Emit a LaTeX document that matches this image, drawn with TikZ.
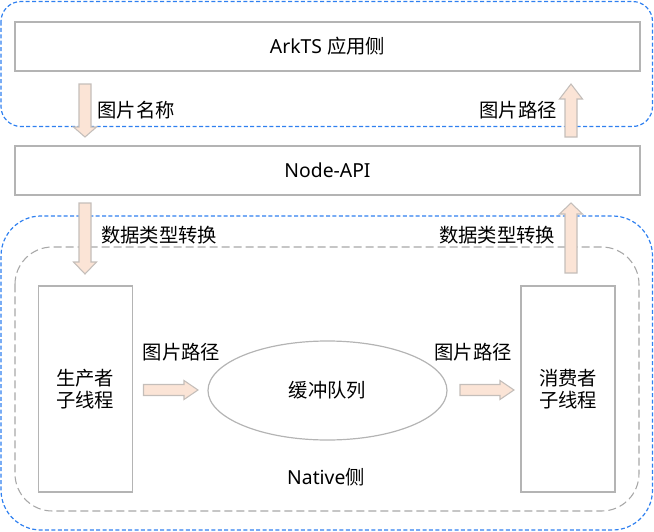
\documentclass[tikz,border=0pt]{standalone}
\usepackage{fontspec}
\setmainfont{Noto Sans}
\newfontfamily\cjk{Noto Sans CJK SC}
\usetikzlibrary{shapes.geometric}
\definecolor{bluedash}{HTML}{2F80F0}
\definecolor{graydash}{HTML}{A8A8A8}
\definecolor{boxline}{HTML}{B4B4B4}
\definecolor{arrfill}{HTML}{FBE4D6}
\definecolor{arrline}{HTML}{C4BEBA}
\newcommand{\vblockarrow}[4]{% center x, start y, head base y, tip y
  \draw[blockarrow] (#1-6,#2) -- (#1+6,#2) -- (#1+6,#3) -- (#1+11.5,#3) -- (#1,#4) -- (#1-11.5,#3) -- (#1-6,#3) -- cycle;}
\newcommand{\hblockarrow}[4]{% center y, start x, head base x, tip x
  \draw[blockarrow] (#2,#1-5.5) -- (#3,#1-5.5) -- (#3,#1-9.5) -- (#4,#1) -- (#3,#1+9.5) -- (#3,#1+5.5) -- (#2,#1+5.5) -- cycle;}
\tikzset{
  box/.style={draw=boxline, line width=0.9pt, inner sep=0pt, font=\fontsize{14.5}{17}\selectfont},
  widebox/.style={box, minimum width=625*0.75pt, minimum height=49*0.75pt},
  tallbox/.style={box, minimum width=94*0.75pt, minimum height=206*0.75pt, align=center, font=\fontsize{14.5}{16}\selectfont\cjk},
  bluebox/.style={draw=bluedash, line width=0.9pt, dash pattern=on 3pt off 1.8pt},
  graybox/.style={draw=graydash, line width=0.8pt, dash pattern=on 6pt off 3pt},
  blockarrow/.style={fill=arrfill, draw=arrline, line width=0.8pt, line join=miter},
  lbl/.style={inner sep=0pt, font=\fontsize{14.5}{17}\selectfont\cjk},
}
\begin{document}
\begin{tikzpicture}[x=0.75pt, y=-0.75pt]
\useasboundingbox (0,0) rectangle (654,532);
% containers
\draw[bluebox, rounded corners=15pt] (1,1.5) rectangle (652.5,126.5);
\draw[bluebox, rounded corners=30pt] (1,216) rectangle (652.5,530);
\draw[graybox, rounded corners=28pt] (15,247) rectangle (639,511);
% main boxes
\node[widebox] (ark) at (327.5,46.5) {ArkTS {\cjk 应用侧}};
\node[widebox] (napi) at (327.5,170.5) {Node-API};
\node[tallbox] (prod) at (85.25,389) {生产者\\子线程};
\node[tallbox] (cons) at (568,389) {消费者\\子线程};
\node[box, ellipse, minimum width=239*0.75pt, minimum height=99*0.75pt, font=\fontsize{14.5}{17}\selectfont\cjk] (queue) at (327.5,390.5) {缓冲队列};
% block arrows
\vblockarrow{85}{84}{127}{137}
\vblockarrow{571}{137}{99}{84}
\vblockarrow{85}{203}{262}{274}
\vblockarrow{571}{273}{214}{203}
\hblockarrow{390}{143.5}{184}{198}
\hblockarrow{390}{460}{500}{514}
% labels
\node[lbl] (l1) at (136,110) {图片名称};
\node[lbl] (l2) at (518,110) {图片路径};
\node[lbl] (l3) at (159,235) {数据类型转换};
\node[lbl] (l4) at (497,235) {数据类型转换};
\node[lbl] (l5) at (181.5,352) {图片路径};
\node[lbl] (l6) at (473,352) {图片路径};
\node[inner sep=0pt, font=\fontsize{14.5}{17}\selectfont] (nat) at (326,477) {Native{\cjk 侧}};
\end{tikzpicture}
\end{document}
